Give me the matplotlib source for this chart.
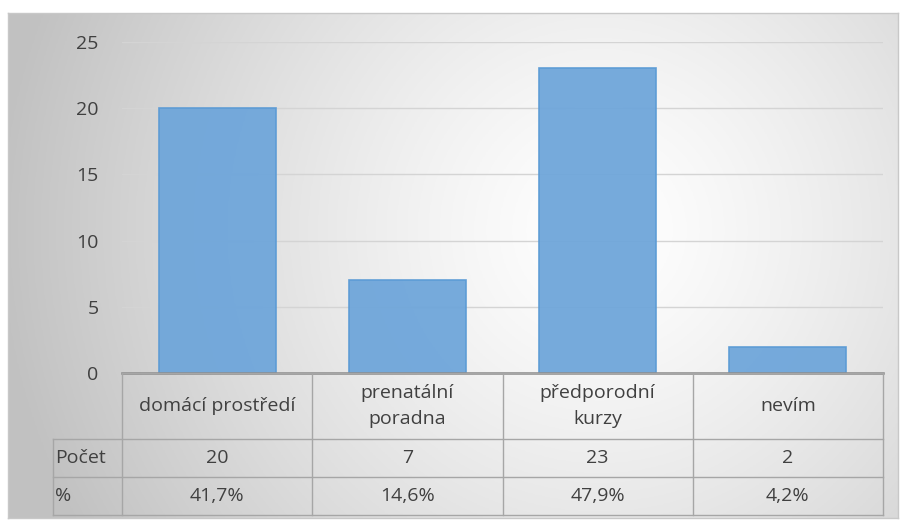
import numpy as np
import matplotlib
matplotlib.use("Agg")
import matplotlib.pyplot as plt

categories = ["domácí prostředí", "prenatální\nporadna", "předporodní\nkurzy", "nevím"]
counts = [20, 7, 23, 2]
percents = ["41,7%", "14,6%", "47,9%", "4,2%"]
row_labels = ["Počet", "%"]
yticks = [0, 5, 10, 15, 20, 25]

plt.rcParams['font.family'] = ['Open Sans', 'DejaVu Sans']
W, H = 900, 523
fig = plt.figure(figsize=(9, 5.23), dpi=100)

def fx(px):
    return px / W
def fy(py):
    return 1 - py / H

# background gradient
bg = fig.add_axes([fx(8), fy(518), fx(898) - fx(8), fy(13) - fy(518)], zorder=-5)
xs = np.linspace(8, 898, 300)
ys = np.linspace(13, 518, 200)
X, Y = np.meshgrid(xs, ys)
r = np.sqrt((X - 600) ** 2 + (Y - 230) ** 2) / 600
val = 1.0 - 0.24 * np.clip(r, 0, 1) ** 1.3
img = np.dstack([val, val, val])
bg.imshow(img, extent=[0, 1, 0, 1], aspect='auto', origin='upper')
bg.set_xlim(0, 1); bg.set_ylim(0, 1)
bg.set_xticks([]); bg.set_yticks([])
for s in bg.spines.values():
    s.set_color('#c8c8c8'); s.set_linewidth(1)

# main axes
left, right, top, bottom = 122, 883, 42, 373
ax = fig.add_axes([fx(left), fy(bottom), fx(right) - fx(left), fy(top) - fy(bottom)])
ax.set_facecolor('none')
x = np.arange(len(categories))
ax.bar(x, counts, width=0.615, color='#6fa6da', edgecolor='#5b9bd5', linewidth=1.2, alpha=0.95, zorder=3)
ax.set_xlim(-0.5, len(categories) - 0.5)
ax.set_ylim(0, 25)
ax.set_yticks(yticks)
ax.set_yticklabels([str(t) for t in yticks], fontsize=14, color='#404040')
ax.tick_params(axis='y', length=0, pad=17)
ax.set_xticks([])
ax.grid(axis='y', color='#d4d4d4', linewidth=1, zorder=0)
for s in ['top', 'right', 'left']:
    ax.spines[s].set_visible(False)
ax.spines['bottom'].set_color('#8c8c8c')
ax.spines['bottom'].set_linewidth(1.8)
ax.spines['bottom'].set_zorder(5)

# table
tab = fig.add_axes([0, 0, 1, 1], zorder=2)
tab.set_xlim(0, W); tab.set_ylim(H, 0)
tab.axis('off')
lc = '#a6a6a6'
cols = np.linspace(left, right, len(categories) + 1)
rows = [373, 439, 477, 515]
lab_left = 53
tab.plot([left, right], [rows[0], rows[0]], color=lc, lw=1)
for ry in rows[1:]:
    tab.plot([lab_left, right], [ry, ry], color=lc, lw=1)
for cx in cols:
    tab.plot([cx, cx], [rows[0], rows[-1]], color=lc, lw=1)
tab.plot([lab_left, lab_left], [rows[1], rows[-1]], color=lc, lw=1)

tc = '#404040'
fs = 14
for i, c in enumerate(categories):
    cx = (cols[i] + cols[i + 1]) / 2
    tab.text(cx, (rows[0] + rows[1]) / 2, c, ha='center', va='center', fontsize=fs, color=tc, linespacing=1.55)
    tab.text(cx, (rows[1] + rows[2]) / 2, str(counts[i]), ha='center', va='center', fontsize=fs, color=tc)
    tab.text(cx, (rows[2] + rows[3]) / 2, percents[i], ha='center', va='center', fontsize=fs, color=tc)
for j, rl in enumerate(row_labels):
    tab.text(lab_left + 2, (rows[j + 1] + rows[j + 2]) / 2, rl, ha='left', va='center', fontsize=fs, color=tc)

fig.savefig('out.png', dpi=100)
